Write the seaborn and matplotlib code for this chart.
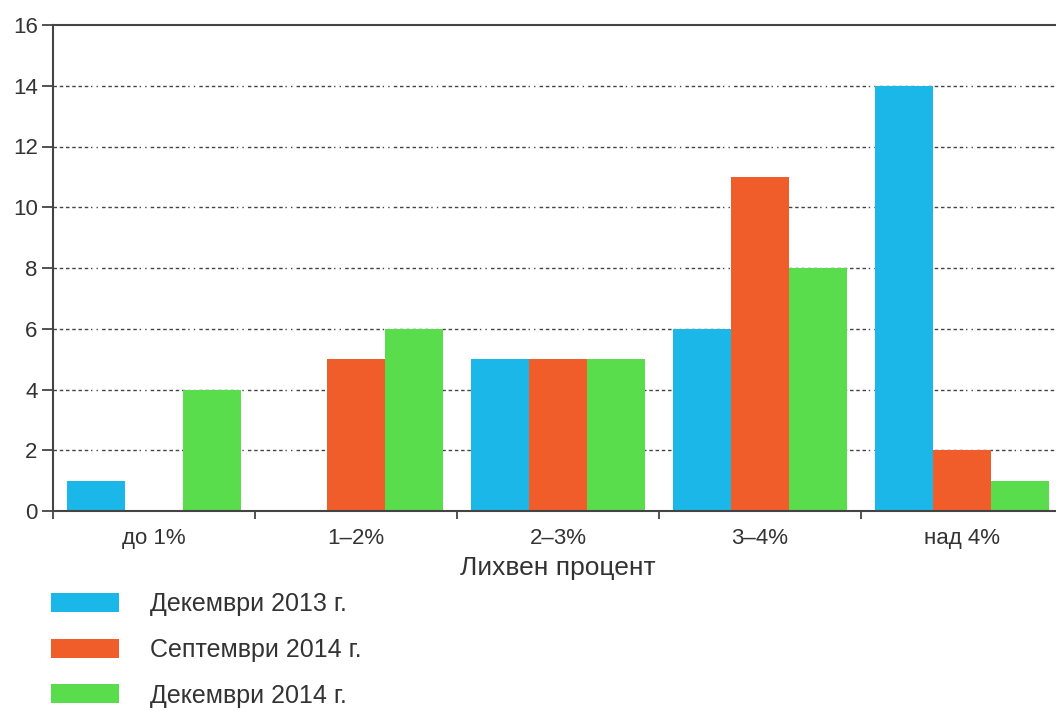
import matplotlib
matplotlib.use("Agg")
import matplotlib.pyplot as plt
import seaborn as sns
import pandas as pd
from matplotlib.ticker import FixedLocator

categories = ["до 1%", "1–2%", "2–3%", "3–4%", "над 4%"]
series_names = ["Декември 2013 г.", "Септември 2014 г.", "Декември 2014 г."]
dec2013 = [1, 0, 5, 6, 14]
sep2014 = [0, 5, 5, 11, 2]
dec2014 = [4, 6, 5, 8, 1]
colors = ["#1CB7E9", "#F15D2A", "#59DD4C"]
y_ticks = [0, 2, 4, 6, 8, 10, 12, 14, 16]
x_label = "Лихвен процент"

rows = []
for name, vals in zip(series_names, [dec2013, sep2014, dec2014]):
    for c, v in zip(categories, vals):
        rows.append({"cat": c, "series": name, "value": v})
df = pd.DataFrame(rows)

sns.set_theme(style="white")
plt.rcParams["font.family"] = ["Liberation Sans", "DejaVu Sans"]

fig = plt.figure(figsize=(10.56, 7.11), dpi=100)
ax = fig.add_axes([53/1056, 1-511/711, 1010/1056, (511-25)/711])

sns.barplot(data=df, x="cat", y="value", hue="series", order=categories,
            hue_order=series_names, palette=colors, width=0.866,
            edgecolor="none", linewidth=0, ax=ax, saturation=1)

ax.set_xlim(-0.5, 4.5)
ax.set_ylim(0, 16)
ax.set_yticks(y_ticks)
ax.set_yticklabels([str(t) for t in y_ticks], fontsize=16, color="#333333")
ax.tick_params(axis="y", direction="out", length=8, width=1.3, color="#444444", pad=3, left=True)
ax.tick_params(axis="x", which="major", length=0, labelsize=16, labelcolor="#333333", pad=12)
ax.xaxis.set_minor_locator(FixedLocator([-0.5, 0.5, 1.5, 2.5, 3.5]))
ax.tick_params(axis="x", which="minor", direction="out", length=6, width=1.3, color="#444444", bottom=True)
ax.set_xlabel(x_label, fontsize=19, color="#333333", labelpad=5)
ax.set_ylabel("")

for yv in y_ticks[1:-1]:
    ax.axhline(yv, color="#444444", linewidth=1.0,
               linestyle=(0, (2.5, 2, 2.5, 2, 2.5, 2, 2.5, 2, 2.5, 2, 2.5, 2, 1, 3, 1, 3)),
               zorder=0)

for s in ["left", "bottom", "top"]:
    ax.spines[s].set_visible(True)
    ax.spines[s].set_color("#444444")
    ax.spines[s].set_linewidth(1.5)
ax.spines["right"].set_visible(False)

handles, labels = ax.get_legend_handles_labels()
ax.get_legend().remove()
fig.legend(handles, labels, loc="upper left", bbox_to_anchor=(28/1056, 1-570/711),
           frameon=False, fontsize=18, handlelength=2.72, handleheight=0.8,
           labelspacing=0.86, handletextpad=1.28, labelcolor="#333333")

fig.savefig("out.png", dpi=100)
